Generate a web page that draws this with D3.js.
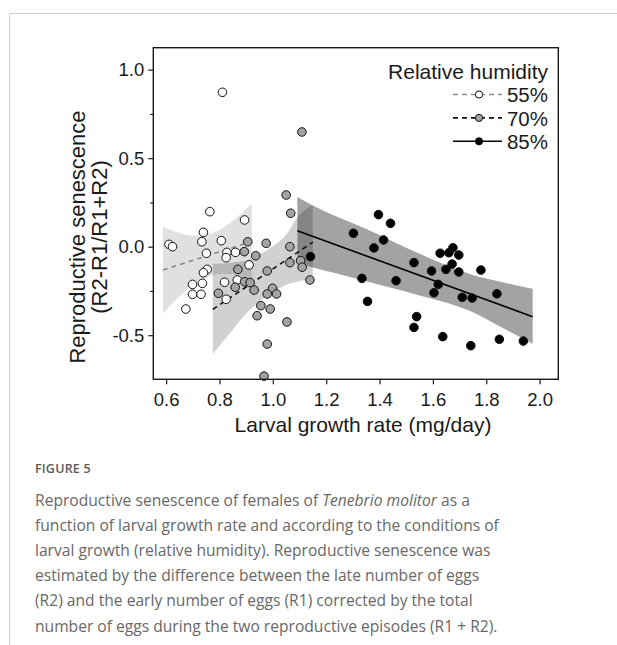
<!DOCTYPE html>
<html>
<head>
<meta charset="utf-8">
<script src="https://cdn.jsdelivr.net/npm/d3@7"></script>
<style>
  html, body { margin: 0; padding: 0; background: #fff; }
  svg { display: block; }
</style>
</head>
<body>
<svg id="chart" width="617" height="645"></svg>
<script>
// ---------- data ----------
const groups = ["55%", "70%", "85%"];

const rh55X = [0.811,0.764,0.894,0.611,0.624,0.740,0.734,0.807,0.751,0.828,0.860,0.825,0.911,0.754,0.740,0.699,0.736,0.819,0.867,0.699,0.731,0.825,0.674];
const rh55Y = [0.872,0.198,0.151,0.013,0.000,0.081,0.028,0.034,-0.037,-0.032,-0.032,-0.062,-0.103,-0.128,-0.147,-0.213,-0.207,-0.201,-0.188,-0.269,-0.269,-0.297,-0.352];

const rh70X = [1.109,1.050,1.067,0.906,0.975,1.064,0.893,0.936,1.064,1.104,1.110,0.869,0.979,1.139,0.894,0.915,0.859,0.930,0.999,0.796,0.979,1.014,0.955,0.990,0.941,1.053,0.979,0.967];
const rh70Y = [0.648,0.292,0.189,0.028,0.019,0.000,-0.028,-0.051,-0.090,-0.079,-0.116,-0.128,-0.137,-0.188,-0.198,-0.203,-0.229,-0.245,-0.235,-0.263,-0.267,-0.267,-0.333,-0.352,-0.390,-0.425,-0.550,-0.731];

const rh85X = [1.141,1.396,1.441,1.302,1.415,1.379,1.627,1.660,1.675,1.697,1.672,1.649,1.697,1.780,1.529,1.595,1.334,1.462,1.620,1.604,1.840,1.710,1.747,1.355,1.539,1.529,1.637,1.849,1.939,1.742];
const rh85Y = [-0.056,0.181,0.132,0.076,0.038,-0.007,-0.037,-0.034,-0.006,-0.047,-0.098,-0.128,-0.143,-0.132,-0.090,-0.137,-0.179,-0.192,-0.213,-0.260,-0.266,-0.286,-0.290,-0.309,-0.395,-0.456,-0.508,-0.523,-0.533,-0.559];

// fitted lines (end points)
const fit55X = [0.588, 0.921], fit55Y = [-0.132, 0.030];
const fit70X = [0.775, 1.150], fit70Y = [-0.354, 0.026];
const fit85X = [1.092, 1.974], fit85Y = [0.090, -0.395];

// confidence bands
const band55X = [0.588, 0.65, 0.70, 0.75, 0.80, 0.85, 0.921];
const band55Lo = [-0.377, -0.282, -0.218, -0.175, -0.154, -0.155, -0.185];
const band55Hi = [0.113, 0.078, 0.062, 0.069, 0.096, 0.145, 0.245];

const band70X = [0.775, 0.85, 0.90, 0.95, 1.00, 1.05, 1.10, 1.15];
const band70Lo = [-0.606, -0.469, -0.378, -0.311, -0.258, -0.215, -0.195, -0.180];
const band70Hi = [-0.097, -0.089, -0.078, -0.045, 0.002, 0.068, 0.180, 0.236];

const band85X = [1.092, 1.15, 1.25, 1.35, 1.45, 1.55, 1.65, 1.75, 1.85, 1.974];
const band85Lo = [-0.090, -0.117, -0.155, -0.195, -0.235, -0.275, -0.315, -0.370, -0.450, -0.548];
const band85Hi = [0.280, 0.233, 0.163, 0.100, 0.030, -0.040, -0.105, -0.160, -0.197, -0.237];

const xTicks = [0.6, 0.8, 1.0, 1.2, 1.4, 1.6, 1.8, 2.0];
const yTicks = [1.0, 0.5, 0.0, -0.5];
const yMinorTicks = [0.75, 0.25, -0.25];

const xTitle = "Larval growth rate (mg/day)";
const yTitle1 = "Reproductive senescence";
const yTitle2 = "(R2-R1/R1+R2)";
const legendTitle = "Relative humidity";
const figLabel = "FIGURE 5";
const captionLines = [
  [["Reproductive senescence of females of ", false], ["Tenebrio molitor", true], [" as a", false]],
  [["function of larval growth rate and according to the conditions of", false]],
  [["larval growth (relative humidity). Reproductive senescence was", false]],
  [["estimated by the difference between the late number of eggs", false]],
  [["(R2) and the early number of eggs (R1) corrected by the total", false]],
  [["number of eggs during the two reproductive episodes (R1 + R2).", false]]
];

// ---------- styles ----------
const styles = {
  "55%": { fill: "#ffffff", line: "#8a8a8a", dash: "5,4", band: 0.12 },
  "70%": { fill: "#a3a3a3", line: "#111111", dash: "5,4", band: 0.18 },
  "85%": { fill: "#000000", line: "#000000", dash: null, band: 0.36 }
};

const svg = d3.select("#chart");
const FONT = "'Liberation Sans', Arial, sans-serif";

// card border
svg.append("path").attr("d", "M9.5,645 V13.5 H617")
  .attr("fill", "none").attr("stroke", "#cfcfcf").attr("stroke-width", 1);

const L = 153.3, R = 558.3, T = 47.7, B = 379.3;
const x = d3.scaleLinear().domain([0.552, 2.07]).range([L, R]);
const y = d3.scaleLinear().domain([-0.749, 1.124]).range([B, T]);

const plot = svg.append("g");

const bandData = [
  { g: "55%", xs: band55X, lo: band55Lo, hi: band55Hi },
  { g: "70%", xs: band70X, lo: band70Lo, hi: band70Hi },
  { g: "85%", xs: band85X, lo: band85Lo, hi: band85Hi }
];
const area = d3.area().x(d => x(d[0])).y0(d => y(d[1])).y1(d => y(d[2])).curve(d3.curveMonotoneX);
bandData.forEach(b => {
  const pts = b.xs.map((v, i) => [v, b.lo[i], b.hi[i]]);
  plot.append("path").attr("d", area(pts))
    .attr("fill", "#000").attr("fill-opacity", styles[b.g].band);
});

const fitData = [
  { g: "55%", xs: fit55X, ys: fit55Y },
  { g: "70%", xs: fit70X, ys: fit70Y },
  { g: "85%", xs: fit85X, ys: fit85Y }
];
const line = d3.line().x(d => x(d[0])).y(d => y(d[1]));
fitData.forEach(f => {
  const s = styles[f.g];
  plot.append("path").attr("d", line(f.xs.map((v, i) => [v, f.ys[i]])))
    .attr("fill", "none").attr("stroke", s.line).attr("stroke-width", 1.6)
    .attr("stroke-dasharray", s.dash);
});

const pointData = [
  { g: "55%", xs: rh55X, ys: rh55Y },
  { g: "70%", xs: rh70X, ys: rh70Y },
  { g: "85%", xs: rh85X, ys: rh85Y }
];
pointData.forEach(p => {
  plot.append("g").selectAll("circle")
    .data(p.xs.map((v, i) => [v, p.ys[i]]))
    .join("circle")
    .attr("cx", d => x(d[0])).attr("cy", d => y(d[1])).attr("r", 4.3)
    .attr("fill", styles[p.g].fill).attr("stroke", "#111").attr("stroke-width", 1);
});

// box
svg.append("rect").attr("x", L).attr("y", T).attr("width", R - L).attr("height", B - T)
  .attr("fill", "none").attr("stroke", "#1a1a1a").attr("stroke-width", 1.4);

// axes
const xAxis = svg.append("g").attr("transform", `translate(0,${B})`)
  .call(d3.axisBottom(x).tickValues(xTicks).tickFormat(d3.format(".1f")).tickSize(5).tickSizeOuter(0).tickPadding(9));
const yAxis = svg.append("g").attr("transform", `translate(${L},0)`)
  .call(d3.axisLeft(y).tickValues(yTicks).tickFormat(d => d3.format(".1f")(d).replace("−", "-")).tickSize(5).tickSizeOuter(0).tickPadding(4));
const yMinor = svg.append("g").attr("transform", `translate(${L},0)`)
  .call(d3.axisLeft(y).tickValues(yMinorTicks).tickFormat("").tickSize(3).tickSizeOuter(0));
[xAxis, yAxis, yMinor].forEach(a => {
  a.select(".domain").remove();
  a.selectAll("line").attr("stroke", "#1a1a1a").attr("stroke-width", 1.2);
  a.selectAll("text").attr("font-family", FONT).attr("font-size", 18.5).attr("fill", "#1a1a1a");
});

// axis titles
svg.append("text").attr("x", 363).attr("y", 432).attr("text-anchor", "middle")
  .attr("font-family", FONT).attr("font-size", 21).attr("fill", "#1a1a1a").text(xTitle);
const yt = svg.append("text").attr("transform", "translate(84.5,237) rotate(-90)")
  .attr("text-anchor", "middle").attr("font-family", FONT).attr("font-size", 22).attr("fill", "#1a1a1a");
yt.append("tspan").attr("x", 0).attr("y", 0).text(yTitle1);
yt.append("tspan").attr("x", 0).attr("y", 22).text(yTitle2);

// legend
const lg = svg.append("g");
lg.append("text").attr("x", 548).attr("y", 79).attr("text-anchor", "end")
  .attr("font-family", FONT).attr("font-size", 21).attr("fill", "#1a1a1a").text(legendTitle);
groups.forEach((g, i) => {
  const cy = 94.5 + i * 23.4;
  const s = styles[g];
  lg.append("line").attr("x1", 453).attr("x2", 502).attr("y1", cy).attr("y2", cy)
    .attr("stroke", s.line).attr("stroke-width", 1.6).attr("stroke-dasharray", s.dash);
  lg.append("circle").attr("cx", 479).attr("cy", cy).attr("r", 3.6)
    .attr("fill", s.fill).attr("stroke", "#111").attr("stroke-width", 1);
  lg.append("text").attr("x", 548).attr("y", cy + 7.8).attr("text-anchor", "end")
    .attr("font-family", FONT).attr("font-size", 20.5).attr("fill", "#1a1a1a").text(g);
});

// caption
svg.append("text").attr("x", 35).attr("y", 472.5)
  .attr("font-family", "'Open Sans', sans-serif").attr("font-size", 12.5).attr("font-weight", 600)
  .attr("letter-spacing", 0.2).attr("fill", "#5a5a5a").text(figLabel);
const cap = svg.append("g");
const capTexts = captionLines.map((parts, i) => {
  const t = cap.append("text").attr("x", 35).attr("y", 506 + i * 25.1)
    .attr("font-family", "'Open Sans', sans-serif").attr("font-size", 16).attr("font-weight", 400)
    .attr("fill", "#686868");
  parts.forEach(([s, it]) => t.append("tspan").attr("font-style", it ? "italic" : "normal").text(s));
  return t;
});
const w1 = capTexts[1].node().getComputedTextLength();
const fs = 16 * 464 / w1;
capTexts.forEach(t => t.attr("font-size", fs));
</script>
</body>
</html>
